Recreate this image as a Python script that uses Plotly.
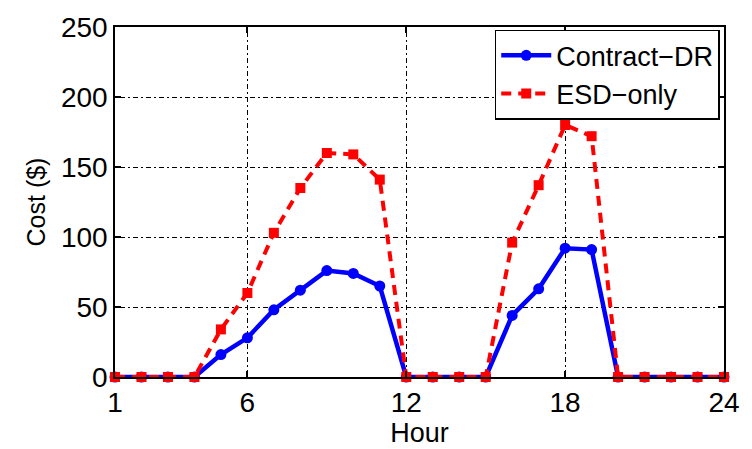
import plotly.graph_objects as go

hours = list(range(1, 25))
contract_dr = [0, 0, 0, 0, 16, 28, 48, 62, 76, 74, 65, 0,
               0, 0, 0, 44, 63, 92, 91, 0, 0, 0, 0, 0]
esd_only = [0, 0, 0, 0, 34, 60, 103, 135, 160, 159, 141, 0,
            0, 0, 0, 96, 137, 180, 172, 0, 0, 0, 0, 0]
x_ticks = [1, 6, 12, 18, 24]
y_ticks = [0, 50, 100, 150, 200, 250]

FONT = "Liberation Sans, Arial, sans-serif"

fig = go.Figure()
fig.add_trace(go.Scatter(
    x=hours, y=contract_dr, name="Contract\u2212DR", mode="lines+markers",
    line=dict(color="#0000ff", width=4.5),
    marker=dict(symbol="circle", size=11, color="#0000ff"),
    cliponaxis=False,
))
fig.add_trace(go.Scatter(
    x=hours, y=esd_only, name="ESD\u2212only", mode="lines+markers",
    line=dict(color="#ff0000", width=4, dash="10px,7px"),
    marker=dict(symbol="square", size=10, color="#ff0000"),
    cliponaxis=False,
))

axis_common = dict(
    showline=True, linecolor="black", linewidth=1.5, mirror="ticks",
    ticks="inside", ticklen=6, tickcolor="black", tickwidth=1.5,
    showgrid=True, gridcolor="black", gridwidth=1.2, griddash="2px,3px,5px,3px",
    zeroline=False,
    tickfont=dict(family=FONT, size=28, color="black"),
)

fig.update_layout(
    width=752, height=449,
    margin=dict(l=115, r=23, t=20, b=69),
    paper_bgcolor="white", plot_bgcolor="white",
    font=dict(family=FONT, color="black"),
    xaxis=dict(range=[1, 24], tickvals=x_ticks, ticktext=[str(v) for v in x_ticks],
               title=dict(text="Hour", font=dict(family=FONT, size=27), standoff=0),
               **axis_common),
    yaxis=dict(range=[0, 250], tickvals=y_ticks, ticktext=[str(v) for v in y_ticks],
               title=dict(text="Cost ($)", font=dict(family=FONT, size=25), standoff=8),
               **axis_common),
    legend=dict(x=0.993, y=0.992, xanchor="right", yanchor="top",
                bgcolor="white", bordercolor="black", borderwidth=1.5,
                font=dict(family=FONT, size=27), tracegroupgap=0,
                itemwidth=50),
    showlegend=True,
)

fig.write_html("out.html")
